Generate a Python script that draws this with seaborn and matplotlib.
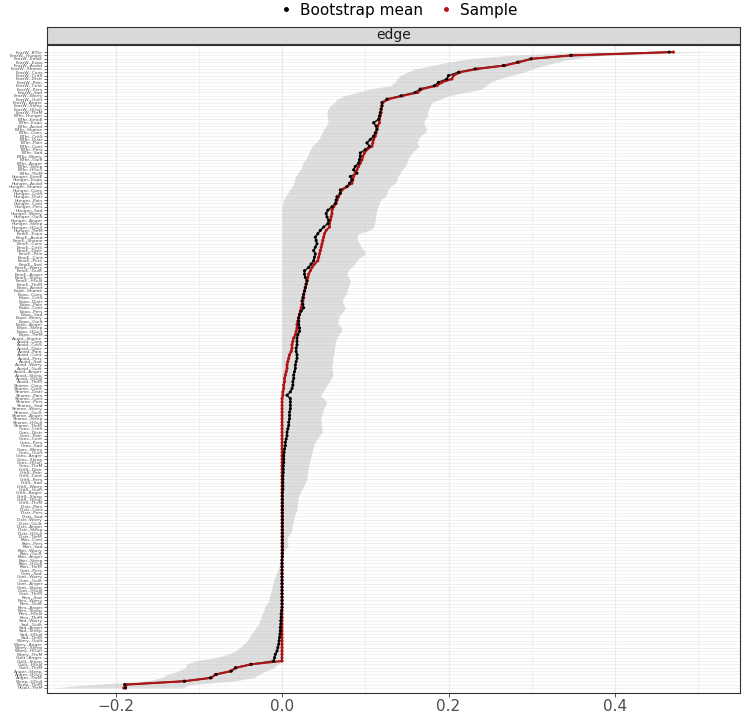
import itertools
import matplotlib
matplotlib.use('Agg')
import matplotlib.pyplot as plt
from matplotlib.lines import Line2D
import numpy as np
import pandas as pd
import seaborn as sns

# node abbreviations (edge labels are nodeA--nodeB)
nodes = ['FearW', 'BThr', 'Hunger', 'EmoE', 'Expo', 'Avoid', 'Shame', 'Cons',
         'CritS', 'Distr', 'Pain', 'Cont', 'Pers', 'Sad', 'Worry', 'Guilt',
         'Anger', 'Sleep', 'HGuil', 'ThrM']
edges = ['{}--{}'.format(a, b) for a, b in itertools.combinations(nodes, 2)]

# sample edge weights, sorted (top row first)
sample = [
    0.470, 0.348, 0.300, 0.285, 0.268, 0.235, 0.214, 0.206, 0.204, 0.192,
    0.186, 0.168, 0.163, 0.145, 0.128, 0.121, 0.120, 0.119, 0.119, 0.118,
    0.117, 0.117, 0.115, 0.114, 0.113, 0.112, 0.110, 0.109, 0.108, 0.102,
    0.099, 0.097, 0.096, 0.094, 0.092, 0.090, 0.088, 0.086, 0.085, 0.084,
    0.078, 0.072, 0.070, 0.068, 0.066, 0.065, 0.062, 0.060, 0.060, 0.059,
    0.058, 0.057, 0.057, 0.053, 0.051, 0.050, 0.049, 0.048, 0.047, 0.046,
    0.045, 0.044, 0.043, 0.039, 0.036, 0.034, 0.032, 0.031, 0.030, 0.029,
    0.028, 0.027, 0.026, 0.026, 0.025, 0.024, 0.023, 0.022, 0.021, 0.020,
    0.019, 0.018, 0.018, 0.017, 0.016, 0.014, 0.013, 0.012, 0.012, 0.011,
    0.009, 0.008, 0.007, 0.006, 0.006, 0.005, 0.004, 0.003, 0.003, 0.002,
    0.002, 0.001, 0.001,
] + [0.0] * 79 + [-0.038, -0.055, -0.062, -0.080, -0.085, -0.118, -0.186, -0.190]

# bootstrap mean
boot_mean = [
    0.465, 0.347, 0.299, 0.283, 0.266, 0.232, 0.212, 0.200, 0.198, 0.188,
    0.183, 0.166, 0.160, 0.143, 0.126, 0.120, 0.120, 0.119, 0.118, 0.117,
    0.116, 0.110, 0.113, 0.114, 0.112, 0.110, 0.106, 0.102, 0.105, 0.100,
    0.094, 0.094, 0.093, 0.092, 0.088, 0.086, 0.090, 0.082, 0.084, 0.081,
    0.078, 0.070, 0.070, 0.066, 0.065, 0.064, 0.060, 0.055, 0.053, 0.054,
    0.056, 0.055, 0.050, 0.046, 0.043, 0.040, 0.041, 0.042, 0.040, 0.038,
    0.040, 0.039, 0.038, 0.035, 0.032, 0.027, 0.027, 0.028, 0.030, 0.029,
    0.028, 0.027, 0.026, 0.025, 0.024, 0.025, 0.026, 0.023, 0.021, 0.020,
    0.020, 0.020, 0.021, 0.021, 0.019, 0.018, 0.018, 0.018, 0.017, 0.017,
    0.018, 0.018, 0.017, 0.016, 0.016, 0.015, 0.014, 0.014, 0.013, 0.013,
    0.012, 0.010, 0.006, 0.010, 0.010, 0.010, 0.010, 0.009, 0.009, 0.009,
    0.008, 0.008, 0.007, 0.006, 0.006, 0.005, 0.004, 0.004, 0.003, 0.0025,
    0.002, 0.002, 0.002, 0.0015, 0.0015, 0.0015, 0.001, 0.001, 0.001, 0.001,
    0.001,
] + [0.0005] * 20 + [0.0] * 15 + [
    -0.0005, -0.001, -0.001, -0.0015, -0.0015, -0.002, -0.002, -0.0025, -0.003, -0.0035,
    -0.004, -0.005, -0.006, -0.008, -0.009, -0.010,
    -0.037, -0.056, -0.061, -0.079, -0.086, -0.117, -0.189, -0.188]

# bootstrap CI
ci_upper = [
    0.510, 0.385, 0.350, 0.330, 0.315, 0.300, 0.290, 0.275, 0.260, 0.250,
    0.245, 0.240, 0.220, 0.200, 0.190, 0.180, 0.178, 0.176, 0.175, 0.175,
    0.172, 0.170, 0.172, 0.174, 0.172, 0.166, 0.164, 0.162, 0.165, 0.160,
    0.156, 0.153, 0.151, 0.150, 0.148, 0.144, 0.142, 0.139, 0.138, 0.136,
    0.130, 0.127, 0.126, 0.124, 0.118, 0.117, 0.115, 0.114, 0.113, 0.112,
    0.112, 0.111, 0.110, 0.105, 0.092, 0.090, 0.091, 0.093, 0.095, 0.099,
    0.100, 0.094, 0.090, 0.087, 0.083, 0.079, 0.078, 0.080, 0.082, 0.081,
    0.079, 0.078, 0.077, 0.074, 0.072, 0.074, 0.076, 0.074, 0.070, 0.068,
    0.067, 0.068, 0.072, 0.071, 0.068, 0.066, 0.064, 0.064, 0.063, 0.063,
    0.062, 0.061, 0.061, 0.060, 0.060, 0.061, 0.061, 0.059, 0.057, 0.054,
    0.052, 0.049, 0.046, 0.050, 0.054, 0.052, 0.050, 0.049, 0.048, 0.046,
    0.048, 0.047, 0.048, 0.048, 0.045, 0.042, 0.040, 0.038, 0.037, 0.036,
    0.035, 0.034, 0.033, 0.032, 0.031, 0.031, 0.030, 0.030, 0.028, 0.026,
    0.024, 0.022, 0.020, 0.019, 0.019, 0.018, 0.018, 0.016, 0.015, 0.014,
    0.013, 0.012, 0.012, 0.010, 0.007, 0.006, 0.007, 0.007, 0.003, 0.001,
] + [0.0] * 32 + [-0.005, -0.010, -0.020, -0.027, -0.035, -0.060, -0.110, -0.120]

ci_lower = [
    0.360, 0.270, 0.225, 0.200, 0.180, 0.160, 0.150, 0.142, 0.138, 0.136,
    0.130, 0.105, 0.090, 0.075, 0.066, 0.063, 0.058, 0.055, 0.054, 0.054,
    0.055, 0.055, 0.053, 0.050, 0.048, 0.046, 0.044, 0.040, 0.036, 0.034,
    0.032, 0.030, 0.028, 0.025, 0.024, 0.022, 0.019, 0.016, 0.015, 0.014,
    0.012, 0.009, 0.007, 0.004, 0.002, 0.001,
] + [0.0] * 104 + [
    -0.001, -0.002, -0.003, -0.004, -0.005, -0.007, -0.008, -0.010, -0.011, -0.012,
    -0.013, -0.014, -0.015, -0.016, -0.018, -0.021, -0.022, -0.024, -0.025, -0.027,
    -0.028, -0.031, -0.034, -0.037, -0.039, -0.042, -0.046, -0.051, -0.056, -0.065,
    -0.080, -0.105, -0.115, -0.116, -0.125, -0.138, -0.145, -0.165, -0.230, -0.275]

df = pd.DataFrame({'edge': edges, 'row': np.arange(len(edges)), 'sample': sample,
                   'mean': boot_mean, 'lower': ci_lower, 'upper': ci_upper})

RED = '#B01414'
W, H = 744, 714
fig = plt.figure(figsize=(W / 100, H / 100), dpi=100)
ax = fig.add_axes([47 / W, 21 / H, 693 / W, 648 / H])
ax.set_facecolor('white')

ax.fill_betweenx(df['row'], df['lower'], df['upper'], color='#BEBEBE', alpha=0.5, lw=0, zorder=1)
sns.lineplot(data=df, x='mean', y='row', sort=False, orient='y', estimator=None,
             color='#222222', lw=1.2, ax=ax, zorder=2)
sns.lineplot(data=df, x='sample', y='row', sort=False, orient='y', estimator=None,
             color=RED, lw=1.5, ax=ax, zorder=3)
sns.scatterplot(data=df, x='sample', y='row', s=5, color=RED, edgecolor='none', ax=ax, zorder=4)
sns.scatterplot(data=df, x='mean', y='row', s=5, color='black', edgecolor='none', ax=ax, zorder=5)

ax.set_xlim(-0.2823, 0.5501)
ax.set_ylim(len(edges) - 1 + 1.5, -2.1)
ax.set_xticks([-0.2, 0.0, 0.2, 0.4])
ax.set_xticklabels(['\u22120.2', '0.0', '0.2', '0.4'])
ax.set_xticks([-0.1, 0.1, 0.3, 0.5], minor=True)
ax.set_yticks(df['row'])
ax.set_yticklabels(df['edge'])
ax.set_axisbelow(True)
ax.grid(axis='y', color='#EBEBEB', lw=0.5)
ax.grid(axis='x', which='major', color='#EBEBEB', lw=0.9)
ax.grid(axis='x', which='minor', color='#EBEBEB', lw=0.5)
ax.tick_params(axis='y', length=2, width=0.5, pad=1, labelsize=3.2,
               color='#333333', labelcolor='#4D4D4D')
ax.tick_params(axis='x', which='major', length=3, width=0.6, pad=1, labelsize=11,
               color='#333333', labelcolor='#4D4D4D')
ax.tick_params(axis='x', which='minor', length=0)
ax.set_xlabel('')
ax.set_ylabel('')
for sp in ax.spines.values():
    sp.set_color('#333333')
    sp.set_linewidth(0.8)

# facet strip
sax = fig.add_axes([47 / W, 1 - 44 / H, 693 / W, 17 / H])
sax.set_facecolor('#D9D9D9')
sax.set_xticks([])
sax.set_yticks([])
for sp in sax.spines.values():
    sp.set_color('#333333')
    sp.set_linewidth(0.8)
sax.text(0.5, 0.5, 'edge', ha='center', va='center', fontsize=10, color='#1A1A1A',
         transform=sax.transAxes)

handles = [Line2D([], [], marker='o', ls='', color='black', markersize=2.5),
           Line2D([], [], marker='o', ls='', color=RED, markersize=2.5)]
fig.legend(handles, ['Bootstrap mean', 'Sample'], loc='center', ncol=2,
           bbox_to_anchor=(398 / W, 1 - 10 / H), frameon=False, fontsize=11,
           handletextpad=0.4, columnspacing=1.0, handlelength=1.0)

fig.savefig('out.png', dpi=100)
